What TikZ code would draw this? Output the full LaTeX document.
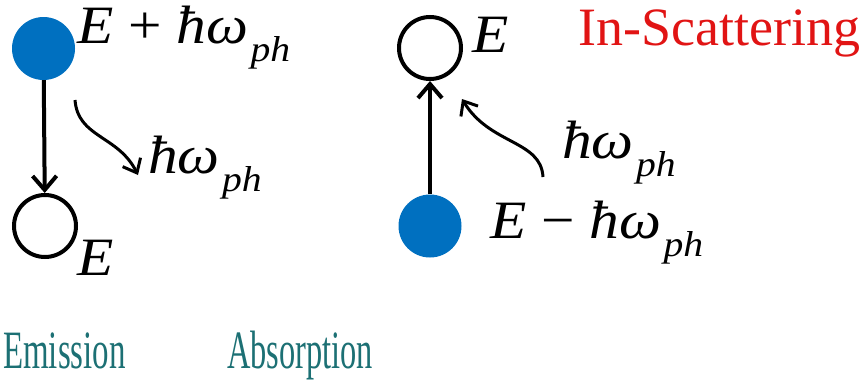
\documentclass[tikz,border=0pt]{standalone}
\usepackage{fontspec}
\setmainfont{Liberation Serif}
\usetikzlibrary{arrows.meta}
\definecolor{levelblue}{RGB}{0,112,192}
\definecolor{scatterred}{RGB}{225,20,20}
\definecolor{darkteal}{RGB}{28,112,116}
\newcommand{\phot}{\textit{ħω}\hspace{2pt}\raisebox{-18pt}{\fontsize{36}{40}\selectfont\textit{ph}}}
\newcommand{\wide}[1]{\scalebox{1.1}[1]{#1}}
\tikzset{
  full/.style={
    circle,
    fill=levelblue,
    minimum size=63pt,
    inner sep=0pt
  },
  empty/.style={
    circle,
    draw=black,
    line width=4pt,
    minimum size=62pt,
    inner sep=0pt
  },
  lbl/.style={
    inner sep=0pt,
    anchor=base west,
    font=\fontsize{54}{60}\selectfont
  },
  title/.style={
    inner sep=0pt,
    anchor=base west,
    font=\fontsize{54}{60}\selectfont,
    text=darkteal
  },
  jump/.style={
    -{Straight Barb[length=14pt,width=24pt]},
    line width=4pt
  },
  wavy/.style={
    -{Straight Barb[length=12pt,width=20pt]},
    line width=3pt
  }
}

\begin{document}
\begin{tikzpicture}[x=1pt,y=-1pt]
\useasboundingbox (0,0) rectangle (868,386);
% emission
\node[full] (et) at (43.5,48.5) {};
\node[empty] (eb) at (45,226) {};
\node[lbl] (etl) at (77,43) {\wide{\textit{E} + \phot}};
\node[lbl] (ebl) at (77,275) {\wide{\textit{E}}};
\node[lbl] (epl) at (148,173) {\wide{\phot}};
\draw[jump] (et) -- (eb);
\coordinate (ews) at (75,100);
\coordinate (ewe) at (138,175);
\draw[wavy] (ews) .. controls (78,138) and (118,135) .. (ewe);
\node[title] (emi) at (3,368) {\scalebox{0.61}[1]{Emission}};
% absorption
\node[empty] (at) at (430,48) {};
\node[full] (ab) at (430,226) {};
\node[lbl] (atl) at (472,52) {\wide{\textit{E}}};
\node[lbl] (abl) at (490,238) {\wide{\textit{E} − \phot}};
\node[lbl] (apl) at (562,158) {\wide{\phot}};
\draw[jump] (ab) -- (at);
\coordinate (aws) at (543,177);
\coordinate (awe) at (462,99);
\draw[wavy] (aws) .. controls (541,140) and (490,145) .. (awe);
\node[title] (abs) at (227,368) {\scalebox{0.6}[1]{Absorption}};
\node[lbl, text=scatterred] (ins) at (578,45) {In-Scattering};
\end{tikzpicture}
\end{document}
